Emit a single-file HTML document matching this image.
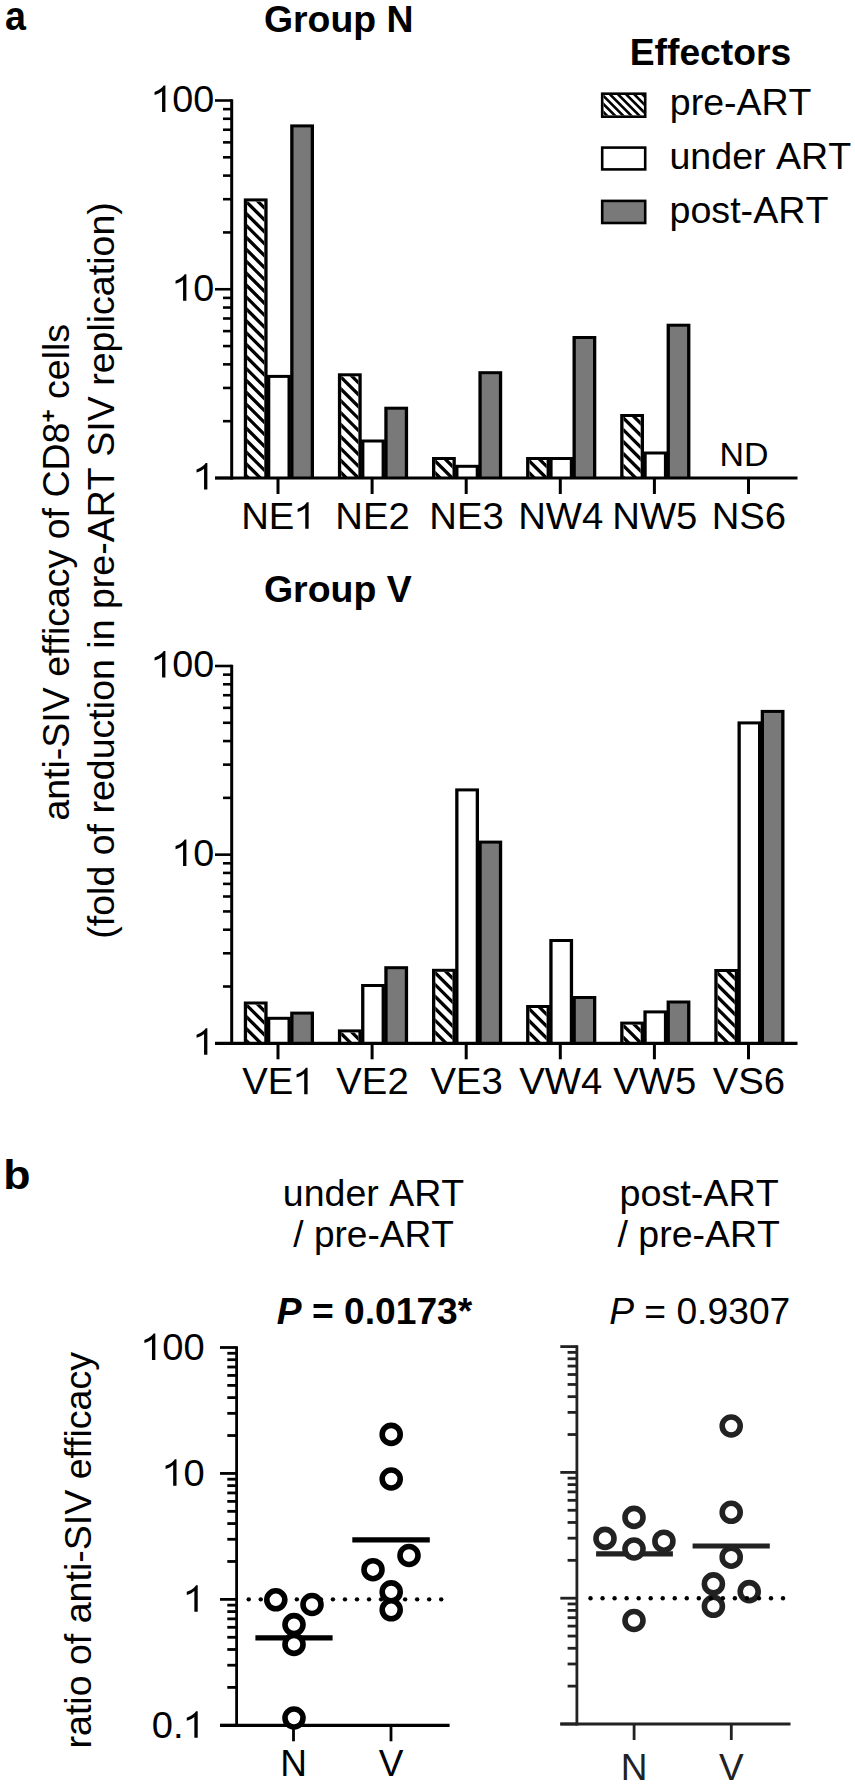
<!DOCTYPE html>
<html><head><meta charset="utf-8"><style>
html,body{margin:0;padding:0;background:#fff;overflow:hidden;}
svg{display:block;}
text{font-family:"Liberation Sans", sans-serif;font-kerning:none;white-space:pre;}
</style></head><body>
<svg width="855" height="1784" viewBox="0 0 855 1784">
<rect width="855" height="1784" fill="#fff"/>
<g transform="translate(5.00,30.20) scale(0.9424,1)" fill="#000"><text x="0.00" y="0.00" font-size="40.00" font-weight="700" font-style="normal" xml:space="preserve">a</text></g>
<g transform="translate(263.97,31.50) scale(0.9971,1)" fill="#000"><text x="0.00" y="0.00" font-size="37.50" font-weight="700" font-style="normal" xml:space="preserve">Group N</text></g>
<g transform="translate(263.96,602.20) scale(0.9992,1)" fill="#000"><text x="0.00" y="0.00" font-size="37.50" font-weight="700" font-style="normal" xml:space="preserve">Group V</text></g>
<g transform="translate(629.71,65.20) scale(0.9943,1)" fill="#000"><text x="0.00" y="0.00" font-size="37.50" font-weight="700" font-style="normal" xml:space="preserve">Effectors</text></g>
<rect x="600.90" y="92.40" width="45.60" height="25.60" fill="#000"/>
<rect x="603.50" y="95.00" width="40.40" height="20.40" fill="#fff"/>
<clipPath id="c1"><rect x="603.50" y="95.00" width="40.40" height="20.40"/></clipPath>
<path d="M598.50 34.30L648.90 84.70M598.50 42.40L648.90 92.80M598.50 50.50L648.90 100.90M598.50 58.60L648.90 109.00M598.50 66.70L648.90 117.10M598.50 74.80L648.90 125.20M598.50 82.90L648.90 133.30M598.50 91.00L648.90 141.40M598.50 99.10L648.90 149.50M598.50 107.20L648.90 157.60M598.50 115.30L648.90 165.70M598.50 123.40L648.90 173.80" stroke="#000" stroke-width="2.6" clip-path="url(#c1)" fill="none"/>
<rect x="600.90" y="146.30" width="45.60" height="24.40" fill="#000"/>
<rect x="603.50" y="148.90" width="40.40" height="19.20" fill="#fff"/>
<rect x="600.90" y="199.60" width="45.60" height="24.70" fill="#000"/>
<rect x="603.50" y="202.20" width="40.40" height="19.50" fill="#797979"/>
<g transform="translate(669.78,115.20) scale(1.0007,1)" fill="#000"><text x="0.00" y="0.00" font-size="37.50" font-weight="400" font-style="normal" xml:space="preserve">pre-ART</text></g>
<g transform="translate(669.46,168.90) scale(1.0026,1)" fill="#000"><text x="0.00" y="0.00" font-size="37.50" font-weight="400" font-style="normal" xml:space="preserve">under ART</text></g>
<g transform="translate(669.47,222.90) scale(1.0039,1)" fill="#000"><text x="0.00" y="0.00" font-size="37.50" font-weight="400" font-style="normal" xml:space="preserve">post-ART</text></g>
<rect x="243.80" y="198.40" width="23.80" height="279.60" fill="#000"/>
<rect x="247.10" y="201.40" width="17.20" height="276.60" fill="#fff"/>
<clipPath id="c2"><rect x="247.10" y="201.40" width="17.20" height="276.60"/></clipPath>
<path d="M242.10 161.74L269.30 188.94M242.10 173.66L269.30 200.86M242.10 185.58L269.30 212.78M242.10 197.50L269.30 224.70M242.10 209.42L269.30 236.62M242.10 221.34L269.30 248.54M242.10 233.26L269.30 260.46M242.10 245.18L269.30 272.38M242.10 257.10L269.30 284.30M242.10 269.02L269.30 296.22M242.10 280.94L269.30 308.14M242.10 292.86L269.30 320.06M242.10 304.78L269.30 331.98M242.10 316.70L269.30 343.90M242.10 328.62L269.30 355.82M242.10 340.54L269.30 367.74M242.10 352.46L269.30 379.66M242.10 364.38L269.30 391.58M242.10 376.30L269.30 403.50M242.10 388.22L269.30 415.42M242.10 400.14L269.30 427.34M242.10 412.06L269.30 439.26M242.10 423.98L269.30 451.18M242.10 435.90L269.30 463.10M242.10 447.82L269.30 475.02M242.10 459.74L269.30 486.94M242.10 471.66L269.30 498.86M242.10 483.58L269.30 510.78M242.10 495.50L269.30 522.70" stroke="#000" stroke-width="3.3" clip-path="url(#c2)" fill="none"/>
<rect x="267.00" y="374.90" width="23.80" height="103.10" fill="#000"/>
<rect x="270.30" y="377.90" width="17.20" height="100.10" fill="#fff"/>
<rect x="290.20" y="124.40" width="23.80" height="353.60" fill="#000"/>
<rect x="293.50" y="127.40" width="17.20" height="350.60" fill="#797979"/>
<rect x="337.90" y="373.30" width="23.80" height="104.70" fill="#000"/>
<rect x="341.20" y="376.30" width="17.20" height="101.70" fill="#fff"/>
<clipPath id="c3"><rect x="341.20" y="376.30" width="17.20" height="101.70"/></clipPath>
<path d="M336.20 336.64L363.40 363.84M336.20 348.56L363.40 375.76M336.20 360.48L363.40 387.68M336.20 372.40L363.40 399.60M336.20 384.32L363.40 411.52M336.20 396.24L363.40 423.44M336.20 408.16L363.40 435.36M336.20 420.08L363.40 447.28M336.20 432.00L363.40 459.20M336.20 443.92L363.40 471.12M336.20 455.84L363.40 483.04M336.20 467.76L363.40 494.96M336.20 479.68L363.40 506.88M336.20 491.60L363.40 518.80" stroke="#000" stroke-width="3.3" clip-path="url(#c3)" fill="none"/>
<rect x="361.10" y="439.50" width="23.80" height="38.50" fill="#000"/>
<rect x="364.40" y="442.50" width="17.20" height="35.50" fill="#fff"/>
<rect x="384.30" y="406.70" width="23.80" height="71.30" fill="#000"/>
<rect x="387.60" y="409.70" width="17.20" height="68.30" fill="#797979"/>
<rect x="432.00" y="457.00" width="23.80" height="21.00" fill="#000"/>
<rect x="435.30" y="460.00" width="17.20" height="18.00" fill="#fff"/>
<clipPath id="c4"><rect x="435.30" y="460.00" width="17.20" height="18.00"/></clipPath>
<path d="M430.30 420.34L457.50 447.54M430.30 432.26L457.50 459.46M430.30 444.18L457.50 471.38M430.30 456.10L457.50 483.30M430.30 468.02L457.50 495.22M430.30 479.94L457.50 507.14M430.30 491.86L457.50 519.06" stroke="#000" stroke-width="3.3" clip-path="url(#c4)" fill="none"/>
<rect x="455.20" y="464.80" width="23.80" height="13.20" fill="#000"/>
<rect x="458.50" y="467.80" width="17.20" height="10.20" fill="#fff"/>
<rect x="478.40" y="371.20" width="23.80" height="106.80" fill="#000"/>
<rect x="481.70" y="374.20" width="17.20" height="103.80" fill="#797979"/>
<rect x="526.10" y="457.00" width="23.80" height="21.00" fill="#000"/>
<rect x="529.40" y="460.00" width="17.20" height="18.00" fill="#fff"/>
<clipPath id="c5"><rect x="529.40" y="460.00" width="17.20" height="18.00"/></clipPath>
<path d="M524.40 420.34L551.60 447.54M524.40 432.26L551.60 459.46M524.40 444.18L551.60 471.38M524.40 456.10L551.60 483.30M524.40 468.02L551.60 495.22M524.40 479.94L551.60 507.14M524.40 491.86L551.60 519.06" stroke="#000" stroke-width="3.3" clip-path="url(#c5)" fill="none"/>
<rect x="549.30" y="457.00" width="23.80" height="21.00" fill="#000"/>
<rect x="552.60" y="460.00" width="17.20" height="18.00" fill="#fff"/>
<rect x="572.50" y="336.00" width="23.80" height="142.00" fill="#000"/>
<rect x="575.80" y="339.00" width="17.20" height="139.00" fill="#797979"/>
<rect x="620.20" y="414.00" width="23.80" height="64.00" fill="#000"/>
<rect x="623.50" y="417.00" width="17.20" height="61.00" fill="#fff"/>
<clipPath id="c6"><rect x="623.50" y="417.00" width="17.20" height="61.00"/></clipPath>
<path d="M618.50 377.34L645.70 404.54M618.50 389.26L645.70 416.46M618.50 401.18L645.70 428.38M618.50 413.10L645.70 440.30M618.50 425.02L645.70 452.22M618.50 436.94L645.70 464.14M618.50 448.86L645.70 476.06M618.50 460.78L645.70 487.98M618.50 472.70L645.70 499.90M618.50 484.62L645.70 511.82M618.50 496.54L645.70 523.74" stroke="#000" stroke-width="3.3" clip-path="url(#c6)" fill="none"/>
<rect x="643.40" y="451.50" width="23.80" height="26.50" fill="#000"/>
<rect x="646.70" y="454.50" width="17.20" height="23.50" fill="#fff"/>
<rect x="666.60" y="323.70" width="23.80" height="154.30" fill="#000"/>
<rect x="669.90" y="326.70" width="17.20" height="151.30" fill="#797979"/>
<line x1="278.00" y1="478.00" x2="278.00" y2="494.00" stroke="#000" stroke-width="3"/>
<g transform="translate(241.15,528.80) scale(1.0350,1)" fill="#000"><text x="0.00" y="0.00" font-size="37.00" font-weight="400" font-style="normal" xml:space="preserve">NE</text><path d="M763 0L583 0L583 1147Q518 1085 422 1029Q300 973 175 934L175 1108Q407 1194 517.5 1293Q628 1392 672 1466L763 1466Z" transform="translate(51.40,0.00) scale(0.01807,-0.01807)"/></g>
<line x1="372.10" y1="478.00" x2="372.10" y2="494.00" stroke="#000" stroke-width="3"/>
<g transform="translate(335.25,528.80) scale(1.0350,1)" fill="#000"><text x="0.00" y="0.00" font-size="37.00" font-weight="400" font-style="normal" xml:space="preserve">NE2</text></g>
<line x1="466.20" y1="478.00" x2="466.20" y2="494.00" stroke="#000" stroke-width="3"/>
<g transform="translate(429.35,528.80) scale(1.0350,1)" fill="#000"><text x="0.00" y="0.00" font-size="37.00" font-weight="400" font-style="normal" xml:space="preserve">NE3</text></g>
<line x1="560.30" y1="478.00" x2="560.30" y2="494.00" stroke="#000" stroke-width="3"/>
<g transform="translate(518.15,528.80) scale(1.0350,1)" fill="#000"><text x="0.00" y="0.00" font-size="37.00" font-weight="400" font-style="normal" xml:space="preserve">NW4</text></g>
<line x1="654.40" y1="478.00" x2="654.40" y2="494.00" stroke="#000" stroke-width="3"/>
<g transform="translate(612.25,528.80) scale(1.0350,1)" fill="#000"><text x="0.00" y="0.00" font-size="37.00" font-weight="400" font-style="normal" xml:space="preserve">NW5</text></g>
<line x1="748.50" y1="478.00" x2="748.50" y2="494.00" stroke="#000" stroke-width="3"/>
<g transform="translate(711.65,528.80) scale(1.0350,1)" fill="#000"><text x="0.00" y="0.00" font-size="37.00" font-weight="400" font-style="normal" xml:space="preserve">NS6</text></g>
<line x1="215.00" y1="478.00" x2="797.50" y2="478.00" stroke="#000" stroke-width="3.2"/>
<line x1="215.00" y1="478.00" x2="231.70" y2="478.00" stroke="#000" stroke-width="2.6"/>
<line x1="215.00" y1="289.25" x2="231.70" y2="289.25" stroke="#000" stroke-width="2.6"/>
<line x1="215.00" y1="100.50" x2="231.70" y2="100.50" stroke="#000" stroke-width="2.6"/>
<line x1="223.00" y1="421.18" x2="231.70" y2="421.18" stroke="#000" stroke-width="2.6"/>
<line x1="223.00" y1="387.94" x2="231.70" y2="387.94" stroke="#000" stroke-width="2.6"/>
<line x1="223.00" y1="364.36" x2="231.70" y2="364.36" stroke="#000" stroke-width="2.6"/>
<line x1="223.00" y1="346.07" x2="231.70" y2="346.07" stroke="#000" stroke-width="2.6"/>
<line x1="223.00" y1="331.12" x2="231.70" y2="331.12" stroke="#000" stroke-width="2.6"/>
<line x1="223.00" y1="318.49" x2="231.70" y2="318.49" stroke="#000" stroke-width="2.6"/>
<line x1="223.00" y1="307.54" x2="231.70" y2="307.54" stroke="#000" stroke-width="2.6"/>
<line x1="223.00" y1="297.89" x2="231.70" y2="297.89" stroke="#000" stroke-width="2.6"/>
<line x1="223.00" y1="232.43" x2="231.70" y2="232.43" stroke="#000" stroke-width="2.6"/>
<line x1="223.00" y1="199.19" x2="231.70" y2="199.19" stroke="#000" stroke-width="2.6"/>
<line x1="223.00" y1="175.61" x2="231.70" y2="175.61" stroke="#000" stroke-width="2.6"/>
<line x1="223.00" y1="157.32" x2="231.70" y2="157.32" stroke="#000" stroke-width="2.6"/>
<line x1="223.00" y1="142.37" x2="231.70" y2="142.37" stroke="#000" stroke-width="2.6"/>
<line x1="223.00" y1="129.74" x2="231.70" y2="129.74" stroke="#000" stroke-width="2.6"/>
<line x1="223.00" y1="118.79" x2="231.70" y2="118.79" stroke="#000" stroke-width="2.6"/>
<line x1="223.00" y1="109.14" x2="231.70" y2="109.14" stroke="#000" stroke-width="2.6"/>
<line x1="231.70" y1="99.20" x2="231.70" y2="479.60" stroke="#000" stroke-width="3"/>
<g transform="translate(193.31,489.40) scale(1.0200,1)" fill="#000"><path d="M763 0L583 0L583 1147Q518 1085 422 1029Q300 973 175 934L175 1108Q407 1194 517.5 1293Q628 1392 672 1466L763 1466Z" transform="translate(0.00,0.00) scale(0.01807,-0.01807)"/></g>
<g transform="translate(172.32,300.65) scale(1.0200,1)" fill="#000"><path d="M763 0L583 0L583 1147Q518 1085 422 1029Q300 973 175 934L175 1108Q407 1194 517.5 1293Q628 1392 672 1466L763 1466Z" transform="translate(0.00,0.00) scale(0.01807,-0.01807)"/><text x="20.58" y="0.00" font-size="37.00" font-weight="400" font-style="normal" xml:space="preserve">0</text></g>
<g transform="translate(151.33,111.90) scale(1.0200,1)" fill="#000"><path d="M763 0L583 0L583 1147Q518 1085 422 1029Q300 973 175 934L175 1108Q407 1194 517.5 1293Q628 1392 672 1466L763 1466Z" transform="translate(0.00,0.00) scale(0.01807,-0.01807)"/><text x="20.58" y="0.00" font-size="37.00" font-weight="400" font-style="normal" xml:space="preserve">00</text></g>
<g transform="translate(719.52,466.20) scale(1.0282,1)" fill="#000"><text x="0.00" y="0.00" font-size="33.00" font-weight="400" font-style="normal" xml:space="preserve">ND</text></g>
<rect x="243.80" y="1001.50" width="23.80" height="41.80" fill="#000"/>
<rect x="247.10" y="1004.50" width="17.20" height="38.80" fill="#fff"/>
<clipPath id="c7"><rect x="247.10" y="1004.50" width="17.20" height="38.80"/></clipPath>
<path d="M242.10 964.84L269.30 992.04M242.10 976.76L269.30 1003.96M242.10 988.68L269.30 1015.88M242.10 1000.60L269.30 1027.80M242.10 1012.52L269.30 1039.72M242.10 1024.44L269.30 1051.64M242.10 1036.36L269.30 1063.56M242.10 1048.28L269.30 1075.48M242.10 1060.20L269.30 1087.40" stroke="#000" stroke-width="3.3" clip-path="url(#c7)" fill="none"/>
<rect x="267.00" y="1016.80" width="23.80" height="26.50" fill="#000"/>
<rect x="270.30" y="1019.80" width="17.20" height="23.50" fill="#fff"/>
<rect x="290.20" y="1011.60" width="23.80" height="31.70" fill="#000"/>
<rect x="293.50" y="1014.60" width="17.20" height="28.70" fill="#797979"/>
<rect x="337.90" y="1029.40" width="23.80" height="13.90" fill="#000"/>
<rect x="341.20" y="1032.40" width="17.20" height="10.90" fill="#fff"/>
<clipPath id="c8"><rect x="341.20" y="1032.40" width="17.20" height="10.90"/></clipPath>
<path d="M336.20 992.74L363.40 1019.94M336.20 1004.66L363.40 1031.86M336.20 1016.58L363.40 1043.78M336.20 1028.50L363.40 1055.70M336.20 1040.42L363.40 1067.62M336.20 1052.34L363.40 1079.54" stroke="#000" stroke-width="3.3" clip-path="url(#c8)" fill="none"/>
<rect x="361.10" y="984.00" width="23.80" height="59.30" fill="#000"/>
<rect x="364.40" y="987.00" width="17.20" height="56.30" fill="#fff"/>
<rect x="384.30" y="966.20" width="23.80" height="77.10" fill="#000"/>
<rect x="387.60" y="969.20" width="17.20" height="74.10" fill="#797979"/>
<rect x="432.00" y="968.80" width="23.80" height="74.50" fill="#000"/>
<rect x="435.30" y="971.80" width="17.20" height="71.50" fill="#fff"/>
<clipPath id="c9"><rect x="435.30" y="971.80" width="17.20" height="71.50"/></clipPath>
<path d="M430.30 932.14L457.50 959.34M430.30 944.06L457.50 971.26M430.30 955.98L457.50 983.18M430.30 967.90L457.50 995.10M430.30 979.82L457.50 1007.02M430.30 991.74L457.50 1018.94M430.30 1003.66L457.50 1030.86M430.30 1015.58L457.50 1042.78M430.30 1027.50L457.50 1054.70M430.30 1039.42L457.50 1066.62M430.30 1051.34L457.50 1078.54" stroke="#000" stroke-width="3.3" clip-path="url(#c9)" fill="none"/>
<rect x="455.20" y="788.40" width="23.80" height="254.90" fill="#000"/>
<rect x="458.50" y="791.40" width="17.20" height="251.90" fill="#fff"/>
<rect x="478.40" y="840.60" width="23.80" height="202.70" fill="#000"/>
<rect x="481.70" y="843.60" width="17.20" height="199.70" fill="#797979"/>
<rect x="526.10" y="1005.00" width="23.80" height="38.30" fill="#000"/>
<rect x="529.40" y="1008.00" width="17.20" height="35.30" fill="#fff"/>
<clipPath id="c10"><rect x="529.40" y="1008.00" width="17.20" height="35.30"/></clipPath>
<path d="M524.40 968.34L551.60 995.54M524.40 980.26L551.60 1007.46M524.40 992.18L551.60 1019.38M524.40 1004.10L551.60 1031.30M524.40 1016.02L551.60 1043.22M524.40 1027.94L551.60 1055.14M524.40 1039.86L551.60 1067.06M524.40 1051.78L551.60 1078.98" stroke="#000" stroke-width="3.3" clip-path="url(#c10)" fill="none"/>
<rect x="549.30" y="939.00" width="23.80" height="104.30" fill="#000"/>
<rect x="552.60" y="942.00" width="17.20" height="101.30" fill="#fff"/>
<rect x="572.50" y="996.00" width="23.80" height="47.30" fill="#000"/>
<rect x="575.80" y="999.00" width="17.20" height="44.30" fill="#797979"/>
<rect x="620.20" y="1021.60" width="23.80" height="21.70" fill="#000"/>
<rect x="623.50" y="1024.60" width="17.20" height="18.70" fill="#fff"/>
<clipPath id="c11"><rect x="623.50" y="1024.60" width="17.20" height="18.70"/></clipPath>
<path d="M618.50 984.94L645.70 1012.14M618.50 996.86L645.70 1024.06M618.50 1008.78L645.70 1035.98M618.50 1020.70L645.70 1047.90M618.50 1032.62L645.70 1059.82M618.50 1044.54L645.70 1071.74M618.50 1056.46L645.70 1083.66" stroke="#000" stroke-width="3.3" clip-path="url(#c11)" fill="none"/>
<rect x="643.40" y="1010.40" width="23.80" height="32.90" fill="#000"/>
<rect x="646.70" y="1013.40" width="17.20" height="29.90" fill="#fff"/>
<rect x="666.60" y="1000.50" width="23.80" height="42.80" fill="#000"/>
<rect x="669.90" y="1003.50" width="17.20" height="39.80" fill="#797979"/>
<rect x="714.30" y="969.00" width="23.80" height="74.30" fill="#000"/>
<rect x="717.60" y="972.00" width="17.20" height="71.30" fill="#fff"/>
<clipPath id="c12"><rect x="717.60" y="972.00" width="17.20" height="71.30"/></clipPath>
<path d="M712.60 932.34L739.80 959.54M712.60 944.26L739.80 971.46M712.60 956.18L739.80 983.38M712.60 968.10L739.80 995.30M712.60 980.02L739.80 1007.22M712.60 991.94L739.80 1019.14M712.60 1003.86L739.80 1031.06M712.60 1015.78L739.80 1042.98M712.60 1027.70L739.80 1054.90M712.60 1039.62L739.80 1066.82M712.60 1051.54L739.80 1078.74" stroke="#000" stroke-width="3.3" clip-path="url(#c12)" fill="none"/>
<rect x="737.50" y="721.40" width="23.80" height="321.90" fill="#000"/>
<rect x="740.80" y="724.40" width="17.20" height="318.90" fill="#fff"/>
<rect x="760.70" y="709.90" width="23.80" height="333.40" fill="#000"/>
<rect x="764.00" y="712.90" width="17.20" height="330.40" fill="#797979"/>
<line x1="278.00" y1="1043.30" x2="278.00" y2="1059.30" stroke="#000" stroke-width="3"/>
<g transform="translate(242.21,1094.30) scale(1.0350,1)" fill="#000"><text x="0.00" y="0.00" font-size="37.00" font-weight="400" font-style="normal" xml:space="preserve">VE</text><path d="M763 0L583 0L583 1147Q518 1085 422 1029Q300 973 175 934L175 1108Q407 1194 517.5 1293Q628 1392 672 1466L763 1466Z" transform="translate(49.36,0.00) scale(0.01807,-0.01807)"/></g>
<line x1="372.10" y1="1043.30" x2="372.10" y2="1059.30" stroke="#000" stroke-width="3"/>
<g transform="translate(336.31,1094.30) scale(1.0350,1)" fill="#000"><text x="0.00" y="0.00" font-size="37.00" font-weight="400" font-style="normal" xml:space="preserve">VE2</text></g>
<line x1="466.20" y1="1043.30" x2="466.20" y2="1059.30" stroke="#000" stroke-width="3"/>
<g transform="translate(430.41,1094.30) scale(1.0350,1)" fill="#000"><text x="0.00" y="0.00" font-size="37.00" font-weight="400" font-style="normal" xml:space="preserve">VE3</text></g>
<line x1="560.30" y1="1043.30" x2="560.30" y2="1059.30" stroke="#000" stroke-width="3"/>
<g transform="translate(519.21,1094.30) scale(1.0350,1)" fill="#000"><text x="0.00" y="0.00" font-size="37.00" font-weight="400" font-style="normal" xml:space="preserve">VW4</text></g>
<line x1="654.40" y1="1043.30" x2="654.40" y2="1059.30" stroke="#000" stroke-width="3"/>
<g transform="translate(613.31,1094.30) scale(1.0350,1)" fill="#000"><text x="0.00" y="0.00" font-size="37.00" font-weight="400" font-style="normal" xml:space="preserve">VW5</text></g>
<line x1="748.50" y1="1043.30" x2="748.50" y2="1059.30" stroke="#000" stroke-width="3"/>
<g transform="translate(712.71,1094.30) scale(1.0350,1)" fill="#000"><text x="0.00" y="0.00" font-size="37.00" font-weight="400" font-style="normal" xml:space="preserve">VS6</text></g>
<line x1="215.00" y1="1043.30" x2="797.50" y2="1043.30" stroke="#000" stroke-width="3.2"/>
<line x1="215.00" y1="1043.30" x2="231.70" y2="1043.30" stroke="#000" stroke-width="2.6"/>
<line x1="215.00" y1="854.65" x2="231.70" y2="854.65" stroke="#000" stroke-width="2.6"/>
<line x1="215.00" y1="666.00" x2="231.70" y2="666.00" stroke="#000" stroke-width="2.6"/>
<line x1="223.00" y1="986.51" x2="231.70" y2="986.51" stroke="#000" stroke-width="2.6"/>
<line x1="223.00" y1="953.29" x2="231.70" y2="953.29" stroke="#000" stroke-width="2.6"/>
<line x1="223.00" y1="929.72" x2="231.70" y2="929.72" stroke="#000" stroke-width="2.6"/>
<line x1="223.00" y1="911.44" x2="231.70" y2="911.44" stroke="#000" stroke-width="2.6"/>
<line x1="223.00" y1="896.50" x2="231.70" y2="896.50" stroke="#000" stroke-width="2.6"/>
<line x1="223.00" y1="883.87" x2="231.70" y2="883.87" stroke="#000" stroke-width="2.6"/>
<line x1="223.00" y1="872.93" x2="231.70" y2="872.93" stroke="#000" stroke-width="2.6"/>
<line x1="223.00" y1="863.28" x2="231.70" y2="863.28" stroke="#000" stroke-width="2.6"/>
<line x1="223.00" y1="797.86" x2="231.70" y2="797.86" stroke="#000" stroke-width="2.6"/>
<line x1="223.00" y1="764.64" x2="231.70" y2="764.64" stroke="#000" stroke-width="2.6"/>
<line x1="223.00" y1="741.07" x2="231.70" y2="741.07" stroke="#000" stroke-width="2.6"/>
<line x1="223.00" y1="722.79" x2="231.70" y2="722.79" stroke="#000" stroke-width="2.6"/>
<line x1="223.00" y1="707.85" x2="231.70" y2="707.85" stroke="#000" stroke-width="2.6"/>
<line x1="223.00" y1="695.22" x2="231.70" y2="695.22" stroke="#000" stroke-width="2.6"/>
<line x1="223.00" y1="684.28" x2="231.70" y2="684.28" stroke="#000" stroke-width="2.6"/>
<line x1="223.00" y1="674.63" x2="231.70" y2="674.63" stroke="#000" stroke-width="2.6"/>
<line x1="231.70" y1="664.70" x2="231.70" y2="1044.90" stroke="#000" stroke-width="3"/>
<g transform="translate(193.31,1054.70) scale(1.0200,1)" fill="#000"><path d="M763 0L583 0L583 1147Q518 1085 422 1029Q300 973 175 934L175 1108Q407 1194 517.5 1293Q628 1392 672 1466L763 1466Z" transform="translate(0.00,0.00) scale(0.01807,-0.01807)"/></g>
<g transform="translate(172.32,866.05) scale(1.0200,1)" fill="#000"><path d="M763 0L583 0L583 1147Q518 1085 422 1029Q300 973 175 934L175 1108Q407 1194 517.5 1293Q628 1392 672 1466L763 1466Z" transform="translate(0.00,0.00) scale(0.01807,-0.01807)"/><text x="20.58" y="0.00" font-size="37.00" font-weight="400" font-style="normal" xml:space="preserve">0</text></g>
<g transform="translate(151.33,677.40) scale(1.0200,1)" fill="#000"><path d="M763 0L583 0L583 1147Q518 1085 422 1029Q300 973 175 934L175 1108Q407 1194 517.5 1293Q628 1392 672 1466L763 1466Z" transform="translate(0.00,0.00) scale(0.01807,-0.01807)"/><text x="20.58" y="0.00" font-size="37.00" font-weight="400" font-style="normal" xml:space="preserve">00</text></g>
<g transform="translate(68.50,820.59) rotate(-90) scale(1.0135,1)" fill="#000"><text x="0.00" y="0.00" font-size="37.00" font-weight="400" font-style="normal" xml:space="preserve">anti-SIV efficacy of CD8</text><text x="392.76" y="-12.21" font-size="22.20" font-weight="700" font-style="normal" xml:space="preserve">+</text><text x="405.73" y="0.00" font-size="37.00" font-weight="400" font-style="normal" xml:space="preserve"> cells</text></g>
<g transform="translate(114.00,938.73) rotate(-90) scale(1.0148,1)" fill="#000"><text x="0.00" y="0.00" font-size="37.00" font-weight="400" font-style="normal" xml:space="preserve">(fold of reduction in pre-ART SIV replication)</text></g>
<g transform="translate(3.36,1188.50) scale(1.1163,1)" fill="#000"><text x="0.00" y="0.00" font-size="40.00" font-weight="700" font-style="normal" xml:space="preserve">b</text></g>
<g transform="translate(282.87,1206.30) scale(0.9998,1)" fill="#000"><text x="0.00" y="0.00" font-size="37.50" font-weight="400" font-style="normal" xml:space="preserve">under ART</text></g>
<g transform="translate(293.30,1247.00) scale(0.9879,1)" fill="#000"><text x="0.00" y="0.00" font-size="37.50" font-weight="400" font-style="normal" xml:space="preserve">/ pre-ART</text></g>
<g transform="translate(276.85,1324.00) scale(1.0055,1)" fill="#000"><text x="0.00" y="0.00" font-size="37.00" font-weight="700" font-style="italic" xml:space="preserve">P</text><text x="24.68" y="0.00" font-size="37.00" font-weight="700" font-style="normal" xml:space="preserve"> = 0.0173*</text></g>
<g transform="translate(619.47,1206.30) scale(1.0065,1)" fill="#000"><text x="0.00" y="0.00" font-size="37.50" font-weight="400" font-style="normal" xml:space="preserve">post-ART</text></g>
<g transform="translate(617.50,1247.00) scale(0.9996,1)" fill="#000"><text x="0.00" y="0.00" font-size="37.50" font-weight="400" font-style="normal" xml:space="preserve">/ pre-ART</text></g>
<g transform="translate(609.15,1324.00) scale(1.0067,1)" fill="#000"><text x="0.00" y="0.00" font-size="37.00" font-weight="400" font-style="italic" xml:space="preserve">P</text><text x="24.68" y="0.00" font-size="37.00" font-weight="400" font-style="normal" xml:space="preserve"> = 0.9307</text></g>
<g transform="translate(91.00,1748.50) rotate(-90) scale(1.0155,1)" fill="#000"><text x="0.00" y="0.00" font-size="37.00" font-weight="400" font-style="normal" xml:space="preserve">ratio of anti-SIV efficacy</text></g>
<line x1="220.00" y1="1725.30" x2="236.60" y2="1725.30" stroke="#000" stroke-width="2.8"/>
<line x1="220.00" y1="1599.37" x2="236.60" y2="1599.37" stroke="#000" stroke-width="2.8"/>
<line x1="220.00" y1="1473.43" x2="236.60" y2="1473.43" stroke="#000" stroke-width="2.8"/>
<line x1="220.00" y1="1347.50" x2="236.60" y2="1347.50" stroke="#000" stroke-width="2.8"/>
<line x1="227.30" y1="1687.39" x2="236.60" y2="1687.39" stroke="#000" stroke-width="2.8"/>
<line x1="227.30" y1="1665.21" x2="236.60" y2="1665.21" stroke="#000" stroke-width="2.8"/>
<line x1="227.30" y1="1649.48" x2="236.60" y2="1649.48" stroke="#000" stroke-width="2.8"/>
<line x1="227.30" y1="1637.28" x2="236.60" y2="1637.28" stroke="#000" stroke-width="2.8"/>
<line x1="227.30" y1="1627.30" x2="236.60" y2="1627.30" stroke="#000" stroke-width="2.8"/>
<line x1="227.30" y1="1618.87" x2="236.60" y2="1618.87" stroke="#000" stroke-width="2.8"/>
<line x1="227.30" y1="1611.57" x2="236.60" y2="1611.57" stroke="#000" stroke-width="2.8"/>
<line x1="227.30" y1="1605.13" x2="236.60" y2="1605.13" stroke="#000" stroke-width="2.8"/>
<line x1="227.30" y1="1561.46" x2="236.60" y2="1561.46" stroke="#000" stroke-width="2.8"/>
<line x1="227.30" y1="1539.28" x2="236.60" y2="1539.28" stroke="#000" stroke-width="2.8"/>
<line x1="227.30" y1="1523.55" x2="236.60" y2="1523.55" stroke="#000" stroke-width="2.8"/>
<line x1="227.30" y1="1511.34" x2="236.60" y2="1511.34" stroke="#000" stroke-width="2.8"/>
<line x1="227.30" y1="1501.37" x2="236.60" y2="1501.37" stroke="#000" stroke-width="2.8"/>
<line x1="227.30" y1="1492.94" x2="236.60" y2="1492.94" stroke="#000" stroke-width="2.8"/>
<line x1="227.30" y1="1485.64" x2="236.60" y2="1485.64" stroke="#000" stroke-width="2.8"/>
<line x1="227.30" y1="1479.20" x2="236.60" y2="1479.20" stroke="#000" stroke-width="2.8"/>
<line x1="227.30" y1="1435.52" x2="236.60" y2="1435.52" stroke="#000" stroke-width="2.8"/>
<line x1="227.30" y1="1413.35" x2="236.60" y2="1413.35" stroke="#000" stroke-width="2.8"/>
<line x1="227.30" y1="1397.61" x2="236.60" y2="1397.61" stroke="#000" stroke-width="2.8"/>
<line x1="227.30" y1="1385.41" x2="236.60" y2="1385.41" stroke="#000" stroke-width="2.8"/>
<line x1="227.30" y1="1375.44" x2="236.60" y2="1375.44" stroke="#000" stroke-width="2.8"/>
<line x1="227.30" y1="1367.01" x2="236.60" y2="1367.01" stroke="#000" stroke-width="2.8"/>
<line x1="227.30" y1="1359.70" x2="236.60" y2="1359.70" stroke="#000" stroke-width="2.8"/>
<line x1="227.30" y1="1353.26" x2="236.60" y2="1353.26" stroke="#000" stroke-width="2.8"/>
<line x1="236.60" y1="1346.20" x2="236.60" y2="1726.80" stroke="#000" stroke-width="2.8"/>
<g transform="translate(151.72,1737.70) scale(1.0300,1)" fill="#000"><text x="0.00" y="0.00" font-size="37.00" font-weight="400" font-style="normal" xml:space="preserve">0.</text><path d="M763 0L583 0L583 1147Q518 1085 422 1029Q300 973 175 934L175 1108Q407 1194 517.5 1293Q628 1392 672 1466L763 1466Z" transform="translate(30.86,0.00) scale(0.01807,-0.01807)"/></g>
<g transform="translate(183.51,1611.77) scale(1.0300,1)" fill="#000"><path d="M763 0L583 0L583 1147Q518 1085 422 1029Q300 973 175 934L175 1108Q407 1194 517.5 1293Q628 1392 672 1466L763 1466Z" transform="translate(0.00,0.00) scale(0.01807,-0.01807)"/></g>
<g transform="translate(162.31,1485.83) scale(1.0300,1)" fill="#000"><path d="M763 0L583 0L583 1147Q518 1085 422 1029Q300 973 175 934L175 1108Q407 1194 517.5 1293Q628 1392 672 1466L763 1466Z" transform="translate(0.00,0.00) scale(0.01807,-0.01807)"/><text x="20.58" y="0.00" font-size="37.00" font-weight="400" font-style="normal" xml:space="preserve">0</text></g>
<g transform="translate(141.12,1359.90) scale(1.0300,1)" fill="#000"><path d="M763 0L583 0L583 1147Q518 1085 422 1029Q300 973 175 934L175 1108Q407 1194 517.5 1293Q628 1392 672 1466L763 1466Z" transform="translate(0.00,0.00) scale(0.01807,-0.01807)"/><text x="20.58" y="0.00" font-size="37.00" font-weight="400" font-style="normal" xml:space="preserve">00</text></g>
<line x1="220.00" y1="1725.30" x2="449.60" y2="1725.30" stroke="#000" stroke-width="3.1999999999999997"/>
<line x1="293.50" y1="1725.30" x2="293.50" y2="1741.30" stroke="#000" stroke-width="2.8"/>
<g transform="translate(280.14,1776.10) scale(1.0000,1)" fill="#000"><text x="0.00" y="0.00" font-size="37.00" font-weight="400" font-style="normal" xml:space="preserve">N</text></g>
<line x1="391.00" y1="1725.30" x2="391.00" y2="1741.30" stroke="#000" stroke-width="2.8"/>
<g transform="translate(378.66,1776.10) scale(1.0000,1)" fill="#000"><text x="0.00" y="0.00" font-size="37.00" font-weight="400" font-style="normal" xml:space="preserve">V</text></g>
<g fill="#000"><circle cx="248.73" cy="1599.37" r="2.2"/><circle cx="260.76" cy="1599.37" r="2.2"/><circle cx="272.79" cy="1599.37" r="2.2"/><circle cx="284.82" cy="1599.37" r="2.2"/><circle cx="296.85" cy="1599.37" r="2.2"/><circle cx="308.88" cy="1599.37" r="2.2"/><circle cx="320.91" cy="1599.37" r="2.2"/><circle cx="332.94" cy="1599.37" r="2.2"/><circle cx="344.97" cy="1599.37" r="2.2"/><circle cx="357.00" cy="1599.37" r="2.2"/><circle cx="369.03" cy="1599.37" r="2.2"/><circle cx="381.06" cy="1599.37" r="2.2"/><circle cx="393.09" cy="1599.37" r="2.2"/><circle cx="405.12" cy="1599.37" r="2.2"/><circle cx="417.15" cy="1599.37" r="2.2"/><circle cx="429.18" cy="1599.37" r="2.2"/><circle cx="441.21" cy="1599.37" r="2.2"/></g>
<line x1="255.40" y1="1637.90" x2="332.60" y2="1637.90" stroke="#000" stroke-width="5.2"/>
<line x1="352.30" y1="1539.80" x2="429.80" y2="1539.80" stroke="#000" stroke-width="5.2"/>
<circle cx="275.8" cy="1599.8" r="9.0" fill="#fff" stroke="#000" stroke-width="5.6"/>
<circle cx="312" cy="1604.5" r="9.0" fill="#fff" stroke="#000" stroke-width="5.6"/>
<circle cx="294" cy="1624.6" r="9.0" fill="#fff" stroke="#000" stroke-width="5.6"/>
<circle cx="294" cy="1644.4" r="9.0" fill="#fff" stroke="#000" stroke-width="5.6"/>
<circle cx="294" cy="1718" r="9.0" fill="#fff" stroke="#000" stroke-width="5.6"/>
<circle cx="391.2" cy="1434.4" r="9.0" fill="#fff" stroke="#000" stroke-width="5.6"/>
<circle cx="391.2" cy="1479" r="9.0" fill="#fff" stroke="#000" stroke-width="5.6"/>
<circle cx="409" cy="1555.5" r="9.0" fill="#fff" stroke="#000" stroke-width="5.6"/>
<circle cx="373" cy="1569.7" r="9.0" fill="#fff" stroke="#000" stroke-width="5.6"/>
<circle cx="391.2" cy="1591.9" r="9.0" fill="#fff" stroke="#000" stroke-width="5.6"/>
<circle cx="391.2" cy="1609.8" r="9.0" fill="#fff" stroke="#000" stroke-width="5.6"/>
<line x1="560.30" y1="1724.00" x2="576.90" y2="1724.00" stroke="#222" stroke-width="2.8"/>
<line x1="560.30" y1="1598.20" x2="576.90" y2="1598.20" stroke="#222" stroke-width="2.8"/>
<line x1="560.30" y1="1472.40" x2="576.90" y2="1472.40" stroke="#222" stroke-width="2.8"/>
<line x1="560.30" y1="1346.60" x2="576.90" y2="1346.60" stroke="#222" stroke-width="2.8"/>
<line x1="567.60" y1="1686.13" x2="576.90" y2="1686.13" stroke="#222" stroke-width="2.8"/>
<line x1="567.60" y1="1663.98" x2="576.90" y2="1663.98" stroke="#222" stroke-width="2.8"/>
<line x1="567.60" y1="1648.26" x2="576.90" y2="1648.26" stroke="#222" stroke-width="2.8"/>
<line x1="567.60" y1="1636.07" x2="576.90" y2="1636.07" stroke="#222" stroke-width="2.8"/>
<line x1="567.60" y1="1626.11" x2="576.90" y2="1626.11" stroke="#222" stroke-width="2.8"/>
<line x1="567.60" y1="1617.69" x2="576.90" y2="1617.69" stroke="#222" stroke-width="2.8"/>
<line x1="567.60" y1="1610.39" x2="576.90" y2="1610.39" stroke="#222" stroke-width="2.8"/>
<line x1="567.60" y1="1603.96" x2="576.90" y2="1603.96" stroke="#222" stroke-width="2.8"/>
<line x1="567.60" y1="1560.33" x2="576.90" y2="1560.33" stroke="#222" stroke-width="2.8"/>
<line x1="567.60" y1="1538.18" x2="576.90" y2="1538.18" stroke="#222" stroke-width="2.8"/>
<line x1="567.60" y1="1522.46" x2="576.90" y2="1522.46" stroke="#222" stroke-width="2.8"/>
<line x1="567.60" y1="1510.27" x2="576.90" y2="1510.27" stroke="#222" stroke-width="2.8"/>
<line x1="567.60" y1="1500.31" x2="576.90" y2="1500.31" stroke="#222" stroke-width="2.8"/>
<line x1="567.60" y1="1491.89" x2="576.90" y2="1491.89" stroke="#222" stroke-width="2.8"/>
<line x1="567.60" y1="1484.59" x2="576.90" y2="1484.59" stroke="#222" stroke-width="2.8"/>
<line x1="567.60" y1="1478.16" x2="576.90" y2="1478.16" stroke="#222" stroke-width="2.8"/>
<line x1="567.60" y1="1434.53" x2="576.90" y2="1434.53" stroke="#222" stroke-width="2.8"/>
<line x1="567.60" y1="1412.38" x2="576.90" y2="1412.38" stroke="#222" stroke-width="2.8"/>
<line x1="567.60" y1="1396.66" x2="576.90" y2="1396.66" stroke="#222" stroke-width="2.8"/>
<line x1="567.60" y1="1384.47" x2="576.90" y2="1384.47" stroke="#222" stroke-width="2.8"/>
<line x1="567.60" y1="1374.51" x2="576.90" y2="1374.51" stroke="#222" stroke-width="2.8"/>
<line x1="567.60" y1="1366.09" x2="576.90" y2="1366.09" stroke="#222" stroke-width="2.8"/>
<line x1="567.60" y1="1358.79" x2="576.90" y2="1358.79" stroke="#222" stroke-width="2.8"/>
<line x1="567.60" y1="1352.36" x2="576.90" y2="1352.36" stroke="#222" stroke-width="2.8"/>
<line x1="576.90" y1="1345.30" x2="576.90" y2="1725.50" stroke="#222" stroke-width="2.8"/>
<line x1="560.30" y1="1724.00" x2="790.50" y2="1724.00" stroke="#222" stroke-width="3.1999999999999997"/>
<line x1="634.10" y1="1724.00" x2="634.10" y2="1740.00" stroke="#222" stroke-width="2.8"/>
<g transform="translate(620.74,1779.50) scale(1.0000,1)" fill="#222"><text x="0.00" y="0.00" font-size="37.00" font-weight="400" font-style="normal" xml:space="preserve">N</text></g>
<line x1="731.30" y1="1724.00" x2="731.30" y2="1740.00" stroke="#222" stroke-width="2.8"/>
<g transform="translate(718.96,1779.50) scale(1.0000,1)" fill="#222"><text x="0.00" y="0.00" font-size="37.00" font-weight="400" font-style="normal" xml:space="preserve">V</text></g>
<line x1="596.10" y1="1553.90" x2="672.90" y2="1553.90" stroke="#222" stroke-width="5.2"/>
<line x1="692.60" y1="1546.00" x2="769.80" y2="1546.00" stroke="#222" stroke-width="5.2"/>
<circle cx="605" cy="1538.4" r="9.0" fill="#fff" stroke="#222" stroke-width="5.6"/>
<circle cx="634" cy="1517.4" r="9.0" fill="#fff" stroke="#222" stroke-width="5.6"/>
<circle cx="634" cy="1549" r="9.0" fill="#fff" stroke="#222" stroke-width="5.6"/>
<circle cx="663.9" cy="1541.2" r="9.0" fill="#fff" stroke="#222" stroke-width="5.6"/>
<circle cx="634" cy="1620.5" r="9.0" fill="#fff" stroke="#222" stroke-width="5.6"/>
<circle cx="731.2" cy="1426" r="9.0" fill="#fff" stroke="#222" stroke-width="5.6"/>
<circle cx="731.2" cy="1512.3" r="9.0" fill="#fff" stroke="#222" stroke-width="5.6"/>
<circle cx="731.2" cy="1557.2" r="9.0" fill="#fff" stroke="#222" stroke-width="5.6"/>
<circle cx="713.4" cy="1583.9" r="9.0" fill="#fff" stroke="#222" stroke-width="5.6"/>
<circle cx="749.2" cy="1591.6" r="9.0" fill="#fff" stroke="#222" stroke-width="5.6"/>
<circle cx="713.4" cy="1606.3" r="9.0" fill="#fff" stroke="#222" stroke-width="5.6"/>
<g fill="#000"><circle cx="590.53" cy="1598.20" r="2.2"/><circle cx="602.56" cy="1598.20" r="2.2"/><circle cx="614.59" cy="1598.20" r="2.2"/><circle cx="626.62" cy="1598.20" r="2.2"/><circle cx="638.65" cy="1598.20" r="2.2"/><circle cx="650.68" cy="1598.20" r="2.2"/><circle cx="662.71" cy="1598.20" r="2.2"/><circle cx="674.74" cy="1598.20" r="2.2"/><circle cx="686.77" cy="1598.20" r="2.2"/><circle cx="698.80" cy="1598.20" r="2.2"/><circle cx="710.83" cy="1598.20" r="2.2"/><circle cx="722.86" cy="1598.20" r="2.2"/><circle cx="734.89" cy="1598.20" r="2.2"/><circle cx="746.92" cy="1598.20" r="2.2"/><circle cx="758.95" cy="1598.20" r="2.2"/><circle cx="770.98" cy="1598.20" r="2.2"/><circle cx="783.01" cy="1598.20" r="2.2"/></g>
</svg></body></html>
